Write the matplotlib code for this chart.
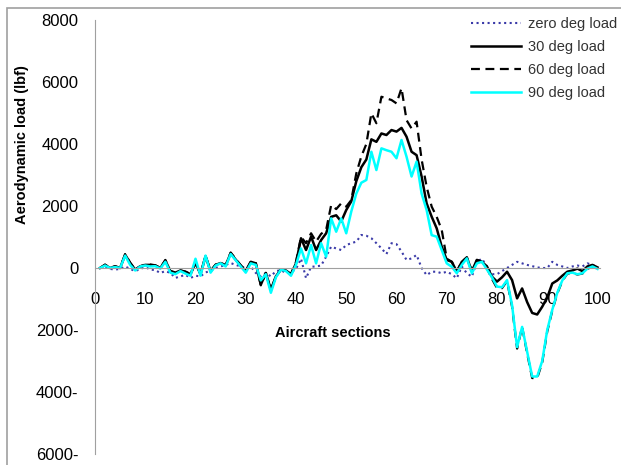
import numpy as np
import matplotlib
matplotlib.use("Agg")
import matplotlib.pyplot as plt
from matplotlib.patches import Rectangle

plt.rcParams['font.family'] = ['Liberation Sans', 'DejaVu Sans']

# aircraft sections 1..100
sections = np.arange(1, 101)

load_0 = [0, 30, -30, -50, -30, 50, -30, -100, -30, 30,
          -50, -70, -160, -100, -160, -320, -270, -220, -320, -250,
          -270, -140, -100, 0, 50, 100, 160, 100, 50, 0,
          50, -160, -270, -160, -270, -100, -70, -160, -140, -30,
          300, -330, 40, 50, 80, 365, 690, 630, 580, 740,
          800, 850, 1065, 1040, 960, 800, 635, 450, 800, 770,
          530, 260, 310, 420, 0, -230, -120, -120, -170, -120,
          -200, -330, 50, -170, -280, 200, 300, 50, -200, -200,
          -100, 0, 100, 200, 150, 100, 60, 20, 0, 0,
          200, 100, 50, 0, 50, 80, 50, 150, 100, 20]

load_30 = [0, 100, 0, 50, 0, 430, 160, -50, 50, 100,
           100, 80, 0, 240, -100, -150, -80, -120, -200, 160,
           -200, 380, -100, 100, 160, 80, 480, 270, 80, -100,
           200, 150, -540, -160, -700, -270, -50, -80, -200, 150,
           960, 580, 1010, 580, 900, 1120, 1650, 1700, 1500, 1870,
           2150, 2800, 3250, 3500, 4150, 4070, 4340, 4290, 4450, 4400,
           4520, 4235, 3750, 3640, 2950, 2085, 1655, 1280, 690, 260,
           200, -120, 200, 330, -100, 260, 200, 50, -280, -440,
           -300, -120, -390, -980, -660, -1100, -1450, -1500, -1250, -950,
           -500, -400, -250, -120, -80, -20, -100, 50, 100, 20]

load_60 = [0, 110, 0, 60, 0, 450, 170, -50, 60, 110,
           110, 90, 0, 260, -100, -150, -80, -120, -200, 170,
           -200, 400, -100, 110, 170, 90, 500, 290, 90, -100,
           210, 160, -560, -160, -720, -270, -50, -80, -200, 200,
           1000, 800, 1120, 850, 1100, 1230, 2030, 1900, 2085, 1980,
           2190, 3050, 3600, 4000, 4990, 4670, 5525, 5470, 5420, 5310,
           5800, 4770, 4500, 4720, 3500, 2620, 1980, 1650, 1230, 300,
           200, -100, 200, 350, -100, 260, 200, 0, -350, -650,
           -650, -420, -1250, -2600, -1900, -2750, -3550, -3550, -3050, -2050,
           -1380, -820, -420, -180, -160, -210, -180, -30, 50, -30]

load_90 = [0, 80, 0, 30, 0, 400, 100, -80, 50, 80,
           50, 60, -20, 200, -150, -200, -100, -180, -250, 300,
           -250, 400, -150, 80, 150, 50, 450, 250, 50, -150,
           150, 100, -400, -200, -800, -300, -50, -100, -250, 100,
           630, 150, 740, 150, 800, 365, 1600, 1170, 1600, 1120,
           1820, 2400, 2750, 2840, 3750, 3160, 3860, 3800, 3750, 3540,
           4130, 3590, 2950, 3430, 2400, 1870, 1060, 1010, 580, 150,
           40, -170, 100, 310, -170, 150, 200, -50, -300, -600,
           -620, -390, -1200, -2550, -1900, -2700, -3500, -3500, -3000, -2000,
           -1350, -800, -400, -170, -150, -200, -170, -20, 50, -30]

x_ticks = list(range(0, 101, 10))
y_ticks = [8000, 6000, 4000, 2000, 0, -2000, -4000, -6000]
y_labels = ['8000', '6000', '4000', '2000', '0', '2000-', '4000-', '6000-']

fig = plt.figure(figsize=(6.21, 4.65), dpi=100)
ax = fig.add_axes([95 / 621, 1 - 454 / 465, 505 / 621, 434 / 465])

ax.plot(sections, load_0, color='#3a3aa8', linestyle=':', linewidth=1.5, label='zero deg load')
ax.plot(sections, load_30, color='black', linewidth=1.8, label='30 deg load')
ax.plot(sections, load_60, color='black', linestyle=(0, (4, 2.5)), linewidth=1.6, label='60 deg load')
ax.plot(sections, load_90, color='#00ffff', linewidth=1.8, label='90 deg load')

ax.set_xlim(0, 100.5)
ax.set_ylim(-6000, 8000)

for side in ['top', 'right']:
    ax.spines[side].set_visible(False)
ax.spines['left'].set_color('#a0a0a0')
ax.spines['bottom'].set_color('#a0a0a0')
ax.spines['bottom'].set_position(('data', 0))

ax.set_xticks(x_ticks)
ax.set_yticks(y_ticks)
ax.set_yticklabels(y_labels)
ax.tick_params(axis='x', length=0, pad=17, labelsize=12)
ax.tick_params(axis='y', length=0, pad=12, labelsize=12)

fig.text(22 / 621, 1 - 145 / 465, 'Aerodynamic load (lbf)', rotation=90,
         ha='center', va='center', fontsize=10.5, fontweight='bold')
fig.text(333 / 621, 1 - 333 / 465, 'Aircraft sections',
         ha='center', va='center', fontsize=10.5, fontweight='bold')

ax.legend(loc='upper left', bbox_to_anchor=(471 / 621, 1 - 17 / 465),
          bbox_transform=fig.transFigure, frameon=False, fontsize=10.5,
          handlelength=3.4, handletextpad=0.5, labelspacing=0.62,
          labelcolor='#333333', borderaxespad=0, borderpad=0)

# outer chart frame
fig.add_artist(Rectangle((7 / 621, -0.1), 1.2, 1 - 8 / 465 + 0.1,
                         transform=fig.transFigure, fill=False,
                         edgecolor='#a0a0a0', linewidth=1.2))

fig.savefig('out.png', dpi=100)
